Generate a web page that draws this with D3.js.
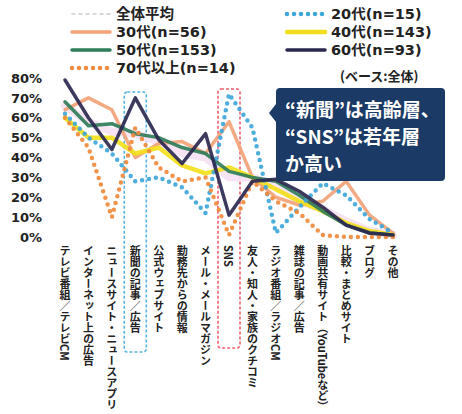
<!DOCTYPE html>
<html><head><meta charset="utf-8">
<script src="https://cdn.jsdelivr.net/npm/d3@7/dist/d3.min.js"></script>
<style>
html,body{margin:0;padding:0;background:#fff;}
svg{display:block;font-family:"Noto Sans CJK JP","Noto Sans",sans-serif;}
</style></head>
<body>
<svg id="chart" width="462" height="414"></svg>
<script>
const categories = ["テレビ番組／テレビCM","インターネット上の広告","ニュースサイト・ニュースアプリ","新聞の記事／広告","公式ウェブサイト","勤務先からの情報","メール・メールマガジン","SNS","友人・知人・家族のクチコミ","ラジオ番組／ラジオCM","雑誌の記事／広告","動画共有サイト（YouTubeなど）","比較・まとめサイト","ブログ","その他"];
const yTicks = [0,10,20,30,40,50,60,70,80];
const seriesNames = ["全体平均","20代(n=15)","30代(n=56)","40代(n=143)","50代(n=153)","60代(n=93)","70代以上(n=14)"];
const avgAll  = [66,58,53,52,48,42,40,30,30,26,18,14,8,3,1];
const age20   = [62,50,42,28,30,25,12,72,55,2,15,27,21,9,2];
const age30   = [64,70,64,40,47,48,42,58,30,20,16,18,28,11,2];
const age40   = [60,50,50,42,45,36,32,35,30,24,18,13,7,3,1];
const age50   = [68,56,57,52,50,45,42,33,30,28,21,13,6,2,1];
const age60   = [79,60,44,70,49,37,52,11,28,29,23,15,6,2,1];
const age70   = [60,45,10,55,35,28,30,1,28,18,12,1,0,0,0];
const calloutLines = ["“新聞”は高齢層、","“SNS”は若年層","か高い"];
const baseNote = "(ベース:全体)";

const svg = d3.select("#chart");
const x = d3.scalePoint().domain(categories).range([65, 393]);
const y = d3.scaleLinear().domain([0, 80]).range([237, 78]);

// y axis
const yAxis = d3.axisLeft(y).tickValues(yTicks).tickFormat(d => d + "%").tickSize(0).tickPadding(0);
const ga = svg.append("g").attr("transform", "translate(42,0)").call(yAxis);
ga.select(".domain").remove();
ga.selectAll("text").attr("font-size", 13).attr("font-weight", "bold").attr("fill", "#222")
  .attr("font-family", "'DejaVu Sans','Noto Sans',sans-serif");

// highlight boxes
const boxes = [
  {cat: "新聞の記事／広告", color: "#55b3e2", top: 92, bottom: 352},
  {cat: "SNS", color: "#f0606e", top: 89, bottom: 348}
];
svg.selectAll("rect.hl").data(boxes).join("rect").attr("class","hl")
  .attr("x", d => x(d.cat) - 11).attr("width", 22)
  .attr("y", d => d.top).attr("height", d => d.bottom - d.top)
  .attr("rx", 3).attr("fill", "none").attr("stroke", d => d.color)
  .attr("stroke-width", 1.6).attr("stroke-dasharray", "3,2");

// series
const series = [
  {name: seriesNames[0], values: avgAll, color: "#f5e1f2", width: 8, dots: false},
  {name: seriesNames[2], values: age30, color: "#f2a277", width: 3.5, dots: false},
  {name: seriesNames[3], values: age40, color: "#f2df1c", width: 4.5, dots: false},
  {name: seriesNames[4], values: age50, color: "#2f7d5a", width: 3.5, dots: false},
  {name: seriesNames[1], values: age20, color: "#3ea6da", width: 4.5, dots: true},
  {name: seriesNames[6], values: age70, color: "#f08a3c", width: 4.5, dots: true},
  {name: seriesNames[5], values: age60, color: "#2b2850", width: 3.5, dots: false}
];
const line = d3.line().x((d, i) => x(categories[i])).y(d => y(d));
svg.append("g").selectAll("path").data(series).join("path")
  .attr("d", d => line(d.values)).attr("fill", "none")
  .attr("stroke", d => d.color).attr("stroke-width", d => d.width)
  .attr("stroke-linecap", "round").attr("stroke-linejoin", "round")
  .attr("stroke-dasharray", d => d.dots ? "0,7" : null)
  .attr("opacity", 0.92);

// x labels (vertical)
svg.append("g").selectAll("text").data(categories).join("text")
  .attr("x", d => x(d)).attr("y", 245)
  .style("writing-mode", "vertical-rl")
  .attr("font-size", 11).attr("font-weight", "bold").attr("fill", "#222")
  .text(d => d);

// legend
const legend = [
  {name: seriesNames[0], color: "#cfc8cc", width: 1.5, dots: true, lx: 72, ly: 14},
  {name: seriesNames[2], color: "#f2a277", width: 3.5, dots: false, lx: 72, ly: 32},
  {name: seriesNames[4], color: "#2f7d5a", width: 3.5, dots: false, lx: 72, ly: 50},
  {name: seriesNames[6], color: "#f08a3c", width: 4.5, dots: true, lx: 72, ly: 68},
  {name: seriesNames[1], color: "#3ea6da", width: 4.5, dots: true, lx: 287, ly: 14},
  {name: seriesNames[3], color: "#f2df1c", width: 4.5, dots: false, lx: 287, ly: 32},
  {name: seriesNames[5], color: "#2b2850", width: 3.5, dots: false, lx: 287, ly: 50}
];
const lg = svg.append("g").selectAll("g").data(legend).join("g")
  .attr("transform", d => `translate(${d.lx},${d.ly})`);
lg.append("line").attr("x1", 0).attr("x2", 38).attr("y1", 0).attr("y2", 0)
  .attr("stroke", d => d.color).attr("stroke-width", d => d.width)
  .attr("stroke-linecap", "round")
  .attr("stroke-dasharray", d => d.dots ? (d.width < 2 ? "3,4" : "0,7") : null);
lg.append("text").attr("x", 44).attr("y", 0).attr("dy", "0.36em")
  .attr("font-size", 14.5).attr("font-weight", "bold").attr("fill", "#222")
  .attr("font-family", "'DejaVu Sans','Noto Sans CJK JP',sans-serif")
  .text(d => d.name);

// base note
svg.append("text").attr("x", 340).attr("y", 76).attr("dy", "0.35em")
  .attr("font-size", 13).attr("font-weight", "bold").attr("fill", "#222").text(baseNote);

// callout
const cx0 = 276, cx1 = 445, cy0 = 88, cy1 = 181;
const cg = svg.append("g");
cg.append("path")
  .attr("d", `M${cx0+4},${cy0} H${cx1-4} Q${cx1},${cy0} ${cx1},${cy0+4} V${cy1-4} Q${cx1},${cy1} ${cx1-4},${cy1} H${cx0+4} Q${cx0},${cy1} ${cx0},${cy1-4} V${cy0+34} L${cx0-7},${cy0+25} L${cx0},${cy0+16} V${cy0+4} Q${cx0},${cy0} ${cx0+4},${cy0} Z`)
  .attr("fill", "#1b3b66");
cg.selectAll("text").data(calloutLines).join("text")
  .attr("x", 285).attr("y", (d, i) => 110 + i * 27).attr("dy", "0.36em")
  .attr("font-size", 19).attr("font-weight", "bold").attr("fill", "#fff")
  .text(d => d);
</script>
</body></html>
